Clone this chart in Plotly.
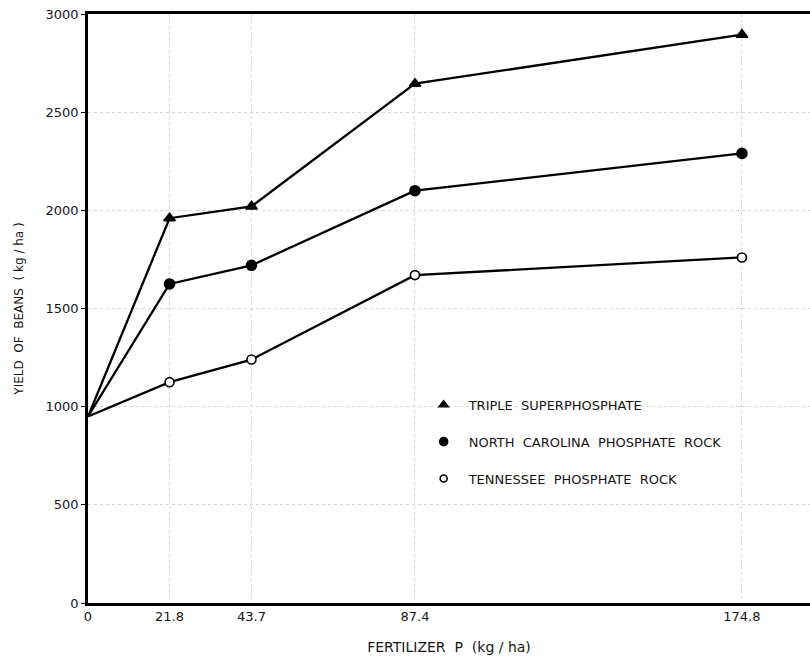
import plotly.graph_objects as go

# Fertilizer P rates (kg/ha) and bean yields (kg/ha)
p_rates = [0, 21.8, 43.7, 87.4, 174.8]
p_labels = ["0", "21.8", "43.7", "87.4", "174.8"]
triple_super = [950, 1960, 2020, 2645, 2895]
nc_rock = [950, 1625, 1720, 2100, 2290]
tn_rock = [950, 1125, 1240, 1670, 1760]
y_ticks = [0, 500, 1000, 1500, 2000, 2500, 3000]

series = [
    ("TRIPLE  SUPERPHOSPHATE", triple_super, "triangle-up", 10, "black"),
    ("NORTH  CAROLINA  PHOSPHATE  ROCK", nc_rock, "circle", 10, "black"),
    ("TENNESSEE  PHOSPHATE  ROCK", tn_rock, "circle", 9, "white"),
]

fig = go.Figure()
for i, (name, vals, sym, size, fill) in enumerate(series):
    # lines with markers (no marker at the common origin)
    fig.add_trace(go.Scatter(
        x=p_rates, y=vals, mode="lines+markers",
        line=dict(color="black", width=2.3),
        marker=dict(symbol=sym, size=[0] + [size] * (len(vals) - 1), color=fill,
                    opacity=1, line=dict(color="black", width=1.6)),
        showlegend=False, cliponaxis=False,
    ))
    # legend entry: marker only
    fig.add_trace(go.Scatter(
        x=[None], y=[None], mode="markers", name=name, legendgroup=f"g{i}",
        marker=dict(symbol=sym, size=size - 2, color=fill,
                    line=dict(color="black", width=1.6)),
    ))

font_main = "DejaVu Sans"
ink = "#151515"
fig.update_layout(
    width=810, height=664,
    margin=dict(l=88, r=0, t=14, b=61),
    paper_bgcolor="white", plot_bgcolor="white",
    font=dict(family=font_main, color=ink, size=12),
    legend=dict(
        x=0.458, y=0.362, xanchor="left", yanchor="top",
        traceorder="grouped", tracegroupgap=17,
        font=dict(size=13, family=font_main, color=ink),
        bgcolor="rgba(0,0,0,0)", itemwidth=40,
    ),
    xaxis=dict(
        range=[0, 193], tickmode="array", tickvals=p_rates, ticktext=p_labels,
        showline=True, linecolor="black", linewidth=2.5, mirror=True,
        ticks="", zeroline=False,
        showgrid=True, gridcolor="#d6d6d6", griddash="dot", gridwidth=1,
        tickfont=dict(size=13, family=font_main, color=ink),
        title=dict(text="FERTILIZER  P  (kg / ha)", standoff=19,
                   font=dict(size=14, family=font_main, color=ink)),
    ),
    yaxis=dict(
        range=[0, 3000], tickmode="array", tickvals=y_ticks,
        showline=True, linecolor="black", linewidth=2.5,
        ticks="outside", ticklen=4, tickcolor="black", zeroline=False,
        showgrid=True, gridcolor="#d6d6d6", griddash="dot", gridwidth=1,
        tickfont=dict(size=13, family=font_main, color=ink),
        title=dict(text="YIELD  OF  BEANS  ( kg / ha )", standoff=20,
                   font=dict(size=12, family=font_main, color=ink)),
    ),
)

fig.write_html("out.html")
